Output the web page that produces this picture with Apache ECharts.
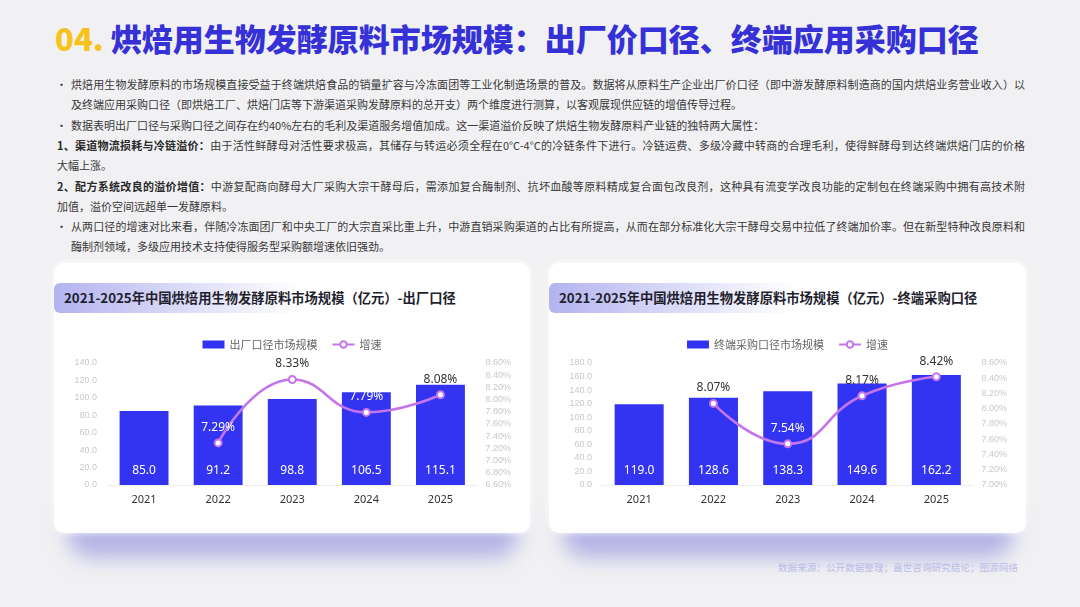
<!DOCTYPE html>
<html><head><meta charset="utf-8">
<script src="https://cdn.jsdelivr.net/npm/echarts@6/dist/echarts.min.js"></script>
<style>
body{margin:0;width:1080px;height:607px;background:#f1f1f3;position:relative;overflow:hidden;font-family:"Noto Sans CJK SC","Noto Sans",sans-serif;}
.title{position:absolute;left:55px;top:17px;font-size:31px;font-weight:900;line-height:42px;color:#3531d6;white-space:nowrap;}
.title .num{color:#f6c31c;}
.line{position:absolute;font-size:11px;line-height:20px;height:20px;color:#383838;white-space:nowrap;}
.j{text-align:justify;text-align-last:justify;}
.bullet{position:absolute;left:56px;font-size:11px;line-height:20px;color:#333;}
b{font-weight:700;color:#2a2a2a;}
.shadow{position:absolute;top:500px;height:58px;background:rgba(160,160,225,0.75);filter:blur(10px);border-radius:22px;}
.card{position:absolute;top:263px;height:270px;background:#fff;border-radius:10px;box-shadow:0 0 6px rgba(255,255,255,0.9);}
.ctitle{position:absolute;left:0;top:20px;height:30px;width:245px;border-radius:6px 0 0 6px;background:linear-gradient(90deg,#b3b3f0,rgba(255,255,255,0));}
.ctext{position:absolute;left:10px;top:20px;line-height:30px;font-size:13.3px;font-weight:700;color:#1f1f2e;white-space:nowrap;}
.chart{position:absolute;left:0;top:0;width:100%;height:100%;}
.footer{position:absolute;left:778px;top:560px;font-size:9.6px;color:#bcbce8;white-space:nowrap;}
</style></head>
<body>
<div class="title"><span class="num">04.</span> 烘焙用生物发酵原料市场规模：出厂价口径、终端应用采购口径</div>

<div class="bullet" style="top:74px">•</div>
<div class="line j" style="left:71px;width:954px;top:74px">烘焙用生物发酵原料的市场规模直接受益于终端烘焙食品的销量扩容与冷冻面团等工业化制造场景的普及。数据将从原料生产企业出厂价口径（即中游发酵原料制造商的国内烘焙业务营业收入）以</div>
<div class="line" style="left:71px;top:94.3px">及终端应用采购口径（即烘焙工厂、烘焙门店等下游渠道采购发酵原料的总开支）两个维度进行测算，以客观展现供应链的增值传导过程。</div>
<div class="bullet" style="top:114.6px">•</div>
<div class="line" style="left:71px;top:114.6px">数据表明出厂口径与采购口径之间存在约40%左右的毛利及渠道服务增值加成。这一渠道溢价反映了烘焙生物发酵原料产业链的独特两大属性：</div>
<div class="line j" style="left:57px;width:968px;top:134.9px"><b>1、渠道物流损耗与冷链溢价：</b>由于活性鲜酵母对活性要求极高，其储存与转运必须全程在0°C-4°C的冷链条件下进行。冷链运费、多级冷藏中转商的合理毛利，使得鲜酵母到达终端烘焙门店的价格</div>
<div class="line" style="left:57px;top:155.2px">大幅上涨。</div>
<div class="line j" style="left:57px;width:968px;top:175.5px"><b>2、配方系统改良的溢价增值：</b>中游复配商向酵母大厂采购大宗干酵母后，需添加复合酶制剂、抗坏血酸等原料精成复合面包改良剂，这种具有流变学改良功能的定制包在终端采购中拥有高技术附</div>
<div class="line" style="left:57px;top:195.8px">加值，溢价空间远超单一发酵原料。</div>
<div class="bullet" style="top:216.1px">•</div>
<div class="line j" style="left:71px;width:954px;top:216.1px">从两口径的增速对比来看，伴随冷冻面团厂和中央工厂的大宗直采比重上升，中游直销采购渠道的占比有所提高，从而在部分标准化大宗干酵母交易中拉低了终端加价率。但在新型特种改良原料和</div>
<div class="line" style="left:71px;top:236.4px">酶制剂领域，多级应用技术支持使得服务型采购额增速依旧强劲。</div>

<div class="shadow" style="left:68px;width:450px"></div>
<div class="shadow" style="left:563px;width:450px"></div>

<div class="card" style="left:54px;width:476px">
  <div class="ctitle"></div>
  <div class="ctext">2021-2025年中国烘焙用生物发酵原料市场规模（亿元）-出厂口径</div>
  <div class="chart" id="c1"></div>
</div>
<div class="card" style="left:549px;width:477px">
  <div class="ctitle"></div>
  <div class="ctext">2021-2025年中国烘焙用生物发酵原料市场规模（亿元）-终端采购口径</div>
  <div class="chart" id="c2"></div>
</div>

<div class="footer">数据来源：公开数据整理；嘉世咨询研究结论；图源网络</div>

<script>
const years = ['2021', '2022', '2023', '2024', '2025'];

const factoryName = '出厂口径市场规模';
const factoryScale = [85.0, 91.2, 98.8, 106.5, 115.1];
const factoryGrowth = [null, 7.29, 8.33, 7.79, 8.08];
const factoryLeftAxis = [0, 140, 20];
const factoryRightAxis = [6.6, 8.6, 0.2];

const terminalName = '终端采购口径市场规模';
const terminalScale = [119.0, 128.6, 138.3, 149.6, 162.2];
const terminalGrowth = [null, 8.07, 7.54, 8.17, 8.42];
const terminalLeftAxis = [0, 180, 20];
const terminalRightAxis = [7.0, 8.6, 0.2];

const growthName = '增速';

const BAR = '#3333f2';
const LINE = '#c575ea';

function build(barName, bars, growth, la, ra, labelColors) {
  return {
    animation: false,
    legend: {
      top: 71, left: 'center', itemWidth: 22, itemHeight: 8, itemGap: 14,
      textStyle: { fontSize: 11, color: '#666', fontFamily: 'Noto Sans CJK SC' },
      data: [{ name: barName, icon: 'rect' }, { name: growthName }]
    },
    grid: { left: 53, right: 52.5, top: 100, bottom: 48, containLabel: false },
    xAxis: {
      type: 'category', data: years,
      axisLine: { lineStyle: { color: '#eeeeee' } },
      axisTick: { show: false },
      axisLabel: { color: '#333', fontSize: 11, margin: 9, fontFamily: 'Noto Sans' }
    },
    yAxis: [
      { type: 'value', min: la[0], max: la[1], interval: la[2],
        axisLine: { show: false }, axisTick: { show: false }, splitLine: { show: false },
        axisLabel: { color: '#c8c8c8', fontSize: 9, margin: 10, formatter: v => v.toFixed(1) } },
      { type: 'value', min: ra[0], max: ra[1], interval: ra[2],
        axisLine: { show: false }, axisTick: { show: false }, splitLine: { show: false },
        axisLabel: { color: '#c8c8c8', fontSize: 9, margin: 8, formatter: v => v.toFixed(2) + '%' } }
    ],
    series: [
      { name: barName, type: 'bar', barWidth: '66%', data: bars,
        itemStyle: { color: BAR },
        label: { show: true, position: 'insideBottom', distance: 8, color: '#fff', fontSize: 12,
          fontFamily: 'Noto Sans', formatter: p => p.value.toFixed(1) } },
      { name: growthName, type: 'line', yAxisIndex: 1, smooth: 0.5,
        symbol: 'emptyCircle', symbolSize: 7,
        lineStyle: { color: LINE, width: 2.6 },
        itemStyle: { color: LINE, borderWidth: 2 },
        data: growth.map((g, i) => g == null ? null : {
          value: g,
          label: { color: labelColors ? labelColors[i] : '#333' }
        }),
        label: { show: true, position: 'top', distance: 5, fontSize: 12, fontFamily: 'Noto Sans',
          formatter: p => p.value.toFixed(2) + '%' } }
    ]
  };
}

function draw(id, barName, bars, growth, la, ra) {
  const chart = echarts.init(document.getElementById(id), null, { renderer: 'canvas' });
  chart.setOption(build(barName, bars, growth, la, ra, null));
  const colors = growth.map((g, i) => {
    if (g == null) return '#333';
    const py = chart.convertToPixel({ seriesIndex: 1 }, [i, g])[1];
    const barTop = chart.convertToPixel({ seriesIndex: 0 }, [i, bars[i]])[1];
    const labelCenter = py - 3.5 - 5 - 7;
    return labelCenter > barTop ? '#ffffff' : '#333';
  });
  chart.setOption(build(barName, bars, growth, la, ra, colors));
}

draw('c1', factoryName, factoryScale, factoryGrowth, factoryLeftAxis, factoryRightAxis);
draw('c2', terminalName, terminalScale, terminalGrowth, terminalLeftAxis, terminalRightAxis);
</script>
</body></html>
